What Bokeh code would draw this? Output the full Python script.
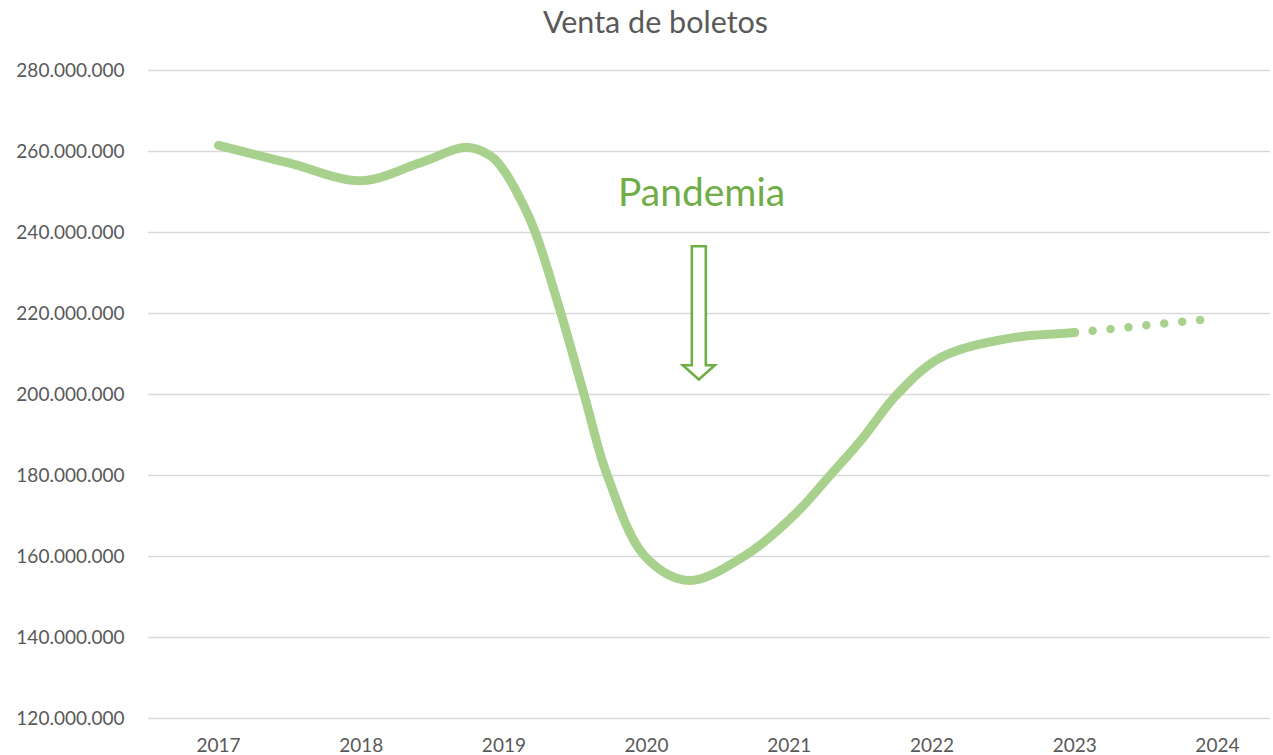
import numpy as np
from bokeh.plotting import figure
from bokeh.models import Range1d, FixedTicker, Label
from bokeh.embed import file_html
from bokeh.resources import INLINE

# ---------------- data ----------------
title_text = "Venta de boletos"
note_text = "Pandemia"
x_ticks = [2017, 2018, 2019, 2020, 2021, 2022, 2023, 2024]
y_ticks = [120_000_000, 140_000_000, 160_000_000, 180_000_000, 200_000_000,
           220_000_000, 240_000_000, 260_000_000, 280_000_000]

# points read along the drawn (smoothed) sales curve
sales_years = [2017.0, 2017.5, 2018.0, 2018.42, 2018.74, 2018.91, 2019.0, 2019.12,
               2019.22, 2019.40, 2019.56, 2019.73, 2019.99, 2020.29, 2020.68,
               2021.03, 2021.29, 2021.50, 2021.76, 2022.06, 2022.53, 2023.0]
sales_millions = [261.5, 257.1, 252.8, 257.3, 261.0, 258.8, 255.3, 247.9,
                  240.0, 220.0, 200.2, 179.5, 160.0, 154.1, 160.0,
                  170.1, 180.2, 188.6, 200.2, 209.1, 213.8, 215.3]

# dotted projection
forecast_years = [2023.0, 2023.88]
forecast_millions = [215.3, 218.4]

# ---------------- styling ----------------
FONT = "Lato"
GRAY = "#595959"
GRID = "#D9D9D9"
LINE = "#A9D18E"
ACCENT = "#70AD47"

W, H = 1270, 754
# the frame reaches the top edge so the title can sit inside it as a label
p = figure(width=W, height=H, output_backend="svg", toolbar_location=None,
           x_range=Range1d(2016.5025, 2024.372), y_range=Range1d(119.5e6, 297.28e6),
           min_border_left=147, min_border_right=0, min_border_top=0,
           min_border_bottom=34)
p.outline_line_color = None
p.background_fill_color = "white"
p.border_fill_color = "white"

# axes
p.xaxis.ticker = FixedTicker(ticks=x_ticks)
p.xaxis.major_label_overrides = {t: str(t) for t in x_ticks}
p.yaxis.ticker = FixedTicker(ticks=y_ticks)
p.yaxis.major_label_overrides = {t: f"{t:,}".replace(",", ".") for t in y_ticks}
for ax in (p.xaxis[0], p.yaxis[0]):
    ax.axis_line_color = None
    ax.major_tick_line_color = None
    ax.minor_tick_line_color = None
    ax.major_tick_out = 0
    ax.major_tick_in = 0
    ax.minor_tick_out = 0
    ax.major_label_text_font = FONT
    ax.major_label_text_font_size = "19px"
    ax.major_label_text_color = GRAY
p.xaxis.major_label_standoff = 17
p.yaxis.major_label_standoff = 23
p.xgrid.grid_line_color = None
p.ygrid.grid_line_color = GRID
p.ygrid.grid_line_width = 1.6


# smooth rendering of the read points (centripetal Catmull-Rom, in pixel-like space)
def smooth(xs, ys, sx=142.6, sy=4.05e-6, n=24):
    P = np.column_stack([np.asarray(xs) * sx, np.asarray(ys) * sy])
    P = np.vstack([2 * P[0] - P[1], P, 2 * P[-1] - P[-2]])
    out = []
    for i in range(1, len(P) - 2):
        p0, p1, p2, p3 = P[i - 1], P[i], P[i + 1], P[i + 2]
        t0 = 0.0
        t1 = t0 + np.linalg.norm(p1 - p0) ** 0.5
        t2 = t1 + np.linalg.norm(p2 - p1) ** 0.5
        t3 = t2 + np.linalg.norm(p3 - p2) ** 0.5
        ts = np.linspace(t1, t2, n, endpoint=(i == len(P) - 3))
        for t in ts:
            a1 = (t1 - t) / (t1 - t0) * p0 + (t - t0) / (t1 - t0) * p1
            a2 = (t2 - t) / (t2 - t1) * p1 + (t - t1) / (t2 - t1) * p2
            a3 = (t3 - t) / (t3 - t2) * p2 + (t - t2) / (t3 - t2) * p3
            b1 = (t2 - t) / (t2 - t0) * a1 + (t - t0) / (t2 - t0) * a2
            b2 = (t3 - t) / (t3 - t1) * a2 + (t - t1) / (t3 - t1) * a3
            c = (t2 - t) / (t2 - t1) * b1 + (t - t1) / (t2 - t1) * b2
            out.append(c)
    out = np.array(out)
    return out[:, 0] / sx, out[:, 1] / sy


sales_values = [v * 1e6 for v in sales_millions]
forecast_values = [v * 1e6 for v in forecast_millions]
sx_, sy_ = smooth(sales_years, sales_values)
p.line(sx_, sy_, line_color=LINE, line_width=9, line_cap="round", line_join="round")
p.line(forecast_years, forecast_values, line_color=LINE, line_width=8.5,
       line_cap="round", line_dash="0 18")

# block arrow annotation (outline)
ARROW_X = 2020.366
ARROW_TOP = 236.6e6
ARROW_NECK = 207.2e6
ARROW_TIP = 203.7e6
SHAFT_HW = 0.049
HEAD_HW = 0.112
ax_pts = [ARROW_X - SHAFT_HW, ARROW_X + SHAFT_HW, ARROW_X + SHAFT_HW, ARROW_X + HEAD_HW,
          ARROW_X, ARROW_X - HEAD_HW, ARROW_X - SHAFT_HW]
ay_pts = [ARROW_TOP, ARROW_TOP, ARROW_NECK, ARROW_NECK, ARROW_TIP, ARROW_NECK, ARROW_NECK]
p.patch(ax_pts, ay_pts, fill_color="white", line_color=ACCENT, line_width=2.6,
        line_join="miter")

p.add_layout(Label(x=2020.385, y=250.2e6, text=note_text, text_font=FONT,
                   text_font_size="39px", text_color=ACCENT, text_align="center",
                   text_baseline="alphabetic"))
p.add_layout(Label(x=2020.062, y=292.1e6, text=title_text, text_font=FONT,
                   text_font_size="30.5px", text_color=GRAY, text_align="center",
                   text_baseline="alphabetic"))

open("out.html", "w").write(file_html(p, INLINE))
